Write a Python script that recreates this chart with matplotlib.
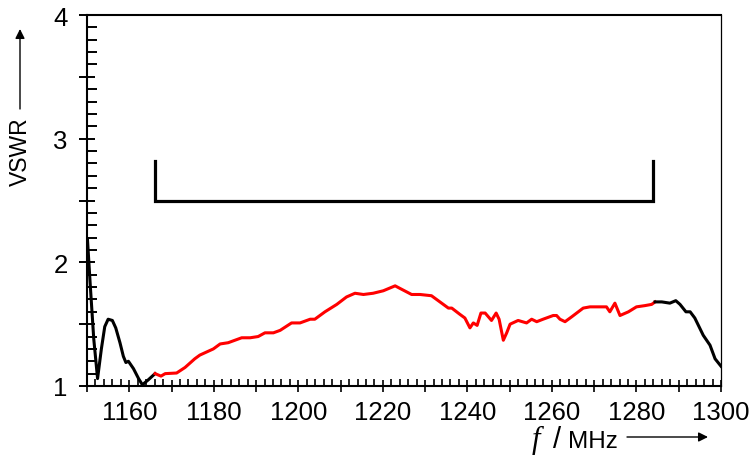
import matplotlib
matplotlib.use("Agg")
import matplotlib.pyplot as plt
from matplotlib.ticker import MultipleLocator, FuncFormatter

# dados (frequência em MHz, VSWR)
f_esq = [1150.1, 1150.8, 1151.6, 1152.5, 1153.4, 1154.2, 1155.0, 1156.0, 1156.8,
         1157.8, 1158.6, 1159.2, 1159.8, 1161.0, 1162.2, 1163.1, 1164.5, 1166.1]
vswr_esq = [2.19, 1.80, 1.38, 1.06, 1.30, 1.48, 1.54, 1.53, 1.47,
            1.35, 1.24, 1.19, 1.20, 1.14, 1.06, 1.01, 1.05, 1.10]

f_banda = [1166.1, 1167.5, 1168.5, 1171.2, 1173.2, 1175.5, 1176.7, 1179.9, 1181.5,
           1183.4, 1186.6, 1188.6, 1190.5, 1192.1, 1194.1, 1195.7, 1198.4, 1200.4,
           1202.8, 1203.9, 1206.3, 1209.1, 1211.4, 1213.4, 1215.4, 1217.7, 1220.1,
           1222.9, 1224.0, 1226.8, 1228.8, 1231.5, 1233.5, 1235.5, 1236.3, 1238.2,
           1239.4, 1240.6, 1241.4, 1242.3, 1243.2, 1244.2, 1245.7, 1246.8, 1247.5,
           1248.5, 1249.3, 1250.1, 1252.0, 1254.0, 1255.2, 1256.4, 1257.9, 1260.3,
           1261.1, 1261.9, 1263.1, 1264.7, 1267.4, 1269.0, 1270.6, 1272.9, 1273.7,
           1274.9, 1276.1, 1278.1, 1280.0, 1282.0, 1283.6, 1284.4]
vswr_banda = [1.10, 1.08, 1.10, 1.105, 1.15, 1.22, 1.25, 1.30, 1.34,
              1.35, 1.39, 1.39, 1.40, 1.43, 1.43, 1.45, 1.51, 1.51,
              1.54, 1.54, 1.60, 1.66, 1.72, 1.75, 1.74, 1.75, 1.77,
              1.81, 1.79, 1.74, 1.74, 1.73, 1.68, 1.63, 1.63, 1.58,
              1.55, 1.47, 1.51, 1.49, 1.59, 1.59, 1.53, 1.59, 1.54,
              1.37, 1.43, 1.50, 1.53, 1.51, 1.54, 1.52, 1.54, 1.57,
              1.57, 1.54, 1.52, 1.56, 1.63, 1.64, 1.64, 1.64, 1.60,
              1.67, 1.57, 1.60, 1.64, 1.65, 1.66, 1.68]

f_dir = [1284.4, 1286.0, 1287.9, 1289.3, 1290.3, 1291.7, 1292.7, 1293.8, 1295.8,
         1297.4, 1298.6, 1300.0]
vswr_dir = [1.68, 1.68, 1.67, 1.69, 1.66, 1.60, 1.60, 1.55, 1.41,
            1.33, 1.22, 1.16]

# faixa de operação marcada pelo colchete
banda_ini, banda_fim = 1166, 1284
colchete_y, colchete_topo = 2.5, 2.82

W, H = 754, 456
fig = plt.figure(figsize=(W / 100, H / 100), dpi=100)
ax = fig.add_axes([87 / W, 1 - 387 / H, (721 - 87) / W, (387 - 16) / H])

ax.plot(f_esq, vswr_esq, color="black", lw=2.2, solid_joinstyle="round")
ax.plot(f_banda, vswr_banda, color="#ff0000", lw=2.2, solid_joinstyle="round")
ax.plot(f_dir, vswr_dir, color="black", lw=2.2, solid_joinstyle="round")

ax.plot([banda_ini, banda_ini, banda_fim, banda_fim],
        [colchete_topo, colchete_y, colchete_y, colchete_topo],
        color="black", lw=2.3, solid_joinstyle="miter")

ax.set_xlim(1150, 1300)
ax.set_ylim(1, 4)

# ticks
ax.xaxis.set_major_locator(MultipleLocator(10))
ax.xaxis.set_minor_locator(MultipleLocator(2))
ax.yaxis.set_major_locator(MultipleLocator(0.5))
ax.yaxis.set_minor_locator(MultipleLocator(0.1))
ax.xaxis.set_major_formatter(FuncFormatter(
    lambda v, p: f"{v:.0f}" if round(v - 1160) % 20 == 0 else ""))
ax.yaxis.set_major_formatter(FuncFormatter(
    lambda v, p: f"{v:.0f}" if abs(v - round(v)) < 1e-6 else ""))
ax.tick_params(axis="x", which="major", direction="inout", length=8, width=1.2,
               pad=6, labelsize=18.5)
ax.tick_params(axis="x", which="minor", direction="in", length=5, width=1.2)
ax.tick_params(axis="y", which="major", direction="inout", length=12, width=1.4,
               pad=8, labelsize=18.5)
ax.tick_params(axis="y", which="minor", direction="in", length=7, width=1.4)
for lab in ax.get_xticklabels() + ax.get_yticklabels():
    lab.set_fontfamily("Liberation Sans")

for lado in ["left", "bottom", "top"]:
    ax.spines[lado].set_linewidth(1.5)
ax.spines["right"].set_linewidth(0.9)


def px(x, y):
    return x / W, 1 - y / H


# rótulo do eixo y com seta
fig.text(*px(20, 152), "VSWR", rotation=90, ha="center", va="center",
         fontsize=16.5, family="Liberation Sans")
ax.annotate("", xy=px(20, 30), xytext=px(20, 110), xycoords="figure fraction",
            textcoords="figure fraction",
            arrowprops=dict(arrowstyle="-|>", color="black", lw=1.0,
                            mutation_scale=14, shrinkA=0, shrinkB=0))

# rótulo do eixo x com seta
fig.text(*px(532, 448), "f", ha="left", va="baseline", fontsize=22,
         family="Liberation Serif", style="italic")
fig.text(*px(557, 448), "/", ha="center", va="baseline", fontsize=21,
         family="Liberation Sans")
fig.text(*px(568, 448), "MHz", ha="left", va="baseline", fontsize=17.5,
         family="Liberation Sans")
ax.annotate("", xy=px(708, 438), xytext=px(627, 438), xycoords="figure fraction",
            textcoords="figure fraction",
            arrowprops=dict(arrowstyle="-|>", color="black", lw=1.0,
                            mutation_scale=14, shrinkA=0, shrinkB=0))

fig.savefig("out.png", dpi=100)
